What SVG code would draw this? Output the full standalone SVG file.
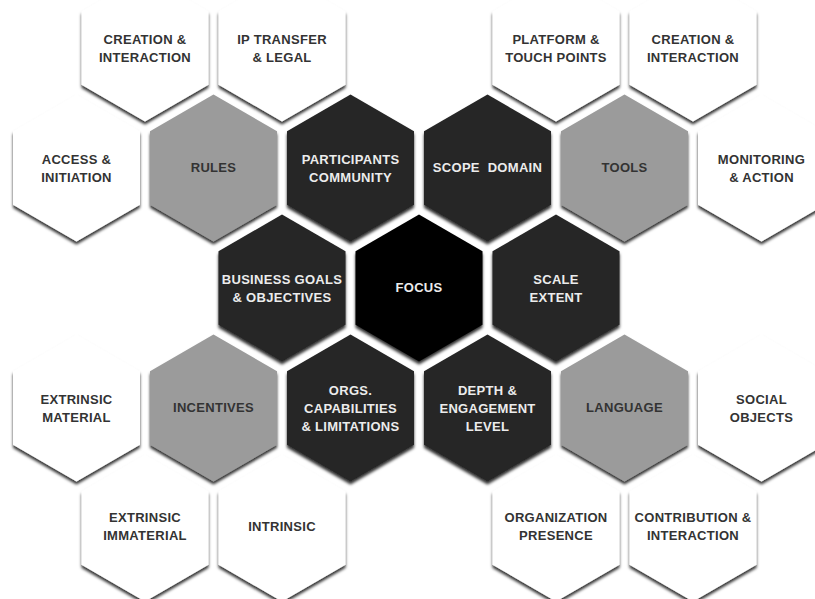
<svg xmlns="http://www.w3.org/2000/svg" xmlns:xlink="http://www.w3.org/1999/xlink" width="815" height="599" viewBox="0 0 815 599">
  <style>
    .white { fill: #ffffff; filter: url(#shadow); }
    .grey  { fill: #9b9b9b; filter: url(#shadow); }
    .dark  { fill: #262626; filter: url(#shadow); }
    .black { fill: #000000; filter: url(#shadow); }
    text { font-family: "Liberation Sans", Arial, sans-serif; font-size: 13px; font-weight: bold; letter-spacing: 0.3px; text-anchor: middle; }
    .ink  { fill: #333333; }
    .pale { fill: #ececec; }
  </style>
  <defs>
    <!-- pointy-top hexagon centred on the origin -->
    <path id="hex" d="M0,-73.5 L63.5,-36.75 L63.5,36.75 L0,73.5 L-63.5,36.75 L-63.5,-36.75 Z"/>
    <filter id="shadow" x="-20%" y="-20%" width="140%" height="140%">
      <feDropShadow dx="0" dy="3" stdDeviation="1.6" flood-color="#000" flood-opacity="0.8"/>
    </filter>
  </defs>
  <rect width="815" height="599" fill="#ffffff"/>

  <!-- top row -->
  <g id="creation-interaction-left">
    <use xlink:href="#hex" class="white" transform="translate(145,48)"/>
    <text class="ink" x="145" y="44">CREATION &amp;</text>
    <text class="ink" x="145" y="62">INTERACTION</text>
  </g>
  <g id="ip-transfer-legal">
    <use xlink:href="#hex" class="white" transform="translate(282,48)"/>
    <text class="ink" x="282" y="44">IP TRANSFER</text>
    <text class="ink" x="282" y="62">&amp; LEGAL</text>
  </g>
  <g id="platform-touch-points">
    <use xlink:href="#hex" class="white" transform="translate(556,48)"/>
    <text class="ink" x="556" y="44">PLATFORM &amp;</text>
    <text class="ink" x="556" y="62">TOUCH POINTS</text>
  </g>
  <g id="creation-interaction-right">
    <use xlink:href="#hex" class="white" transform="translate(693,48)"/>
    <text class="ink" x="693" y="44">CREATION &amp;</text>
    <text class="ink" x="693" y="62">INTERACTION</text>
  </g>

  <!-- second row -->
  <g id="access-initiation">
    <use xlink:href="#hex" class="white" transform="translate(76.5,168)"/>
    <text class="ink" x="76.5" y="164">ACCESS &amp;</text>
    <text class="ink" x="76.5" y="182">INITIATION</text>
  </g>
  <g id="rules">
    <use xlink:href="#hex" class="grey" transform="translate(213.5,168)"/>
    <text class="ink" x="213.5" y="172">RULES</text>
  </g>
  <g id="participants-community">
    <use xlink:href="#hex" class="dark" transform="translate(350.5,168)"/>
    <text class="pale" x="350.5" y="164">PARTICIPANTS</text>
    <text class="pale" x="350.5" y="182">COMMUNITY</text>
  </g>
  <g id="scope-domain">
    <use xlink:href="#hex" class="dark" transform="translate(487.5,168)"/>
    <text class="pale" x="487.5" y="172" style="white-space:pre">SCOPE  DOMAIN</text>
  </g>
  <g id="tools">
    <use xlink:href="#hex" class="grey" transform="translate(624.5,168)"/>
    <text class="ink" x="624.5" y="172">TOOLS</text>
  </g>
  <g id="monitoring-action">
    <use xlink:href="#hex" class="white" transform="translate(761.5,168)"/>
    <text class="ink" x="761.5" y="164">MONITORING</text>
    <text class="ink" x="761.5" y="182">&amp; ACTION</text>
  </g>

  <!-- middle row -->
  <g id="business-goals">
    <use xlink:href="#hex" class="dark" transform="translate(282,288)"/>
    <text class="pale" x="282" y="284">BUSINESS GOALS</text>
    <text class="pale" x="282" y="302">&amp; OBJECTIVES</text>
  </g>
  <g id="focus">
    <use xlink:href="#hex" class="black" transform="translate(419,288)"/>
    <text class="pale" x="419" y="292">FOCUS</text>
  </g>
  <g id="scale-extent">
    <use xlink:href="#hex" class="dark" transform="translate(556,288)"/>
    <text class="pale" x="556" y="284">SCALE</text>
    <text class="pale" x="556" y="302">EXTENT</text>
  </g>

  <!-- fourth row -->
  <g id="extrinsic-material">
    <use xlink:href="#hex" class="white" transform="translate(76.5,408)"/>
    <text class="ink" x="76.5" y="404">EXTRINSIC</text>
    <text class="ink" x="76.5" y="422">MATERIAL</text>
  </g>
  <g id="incentives">
    <use xlink:href="#hex" class="grey" transform="translate(213.5,408)"/>
    <text class="ink" x="213.5" y="412">INCENTIVES</text>
  </g>
  <g id="orgs-capabilities">
    <use xlink:href="#hex" class="dark" transform="translate(350.5,408)"/>
    <text class="pale" x="350.5" y="395">ORGS.</text>
    <text class="pale" x="350.5" y="413">CAPABILITIES</text>
    <text class="pale" x="350.5" y="431">&amp; LIMITATIONS</text>
  </g>
  <g id="depth-engagement">
    <use xlink:href="#hex" class="dark" transform="translate(487.5,408)"/>
    <text class="pale" x="487.5" y="395">DEPTH &amp;</text>
    <text class="pale" x="487.5" y="413">ENGAGEMENT</text>
    <text class="pale" x="487.5" y="431">LEVEL</text>
  </g>
  <g id="language">
    <use xlink:href="#hex" class="grey" transform="translate(624.5,408)"/>
    <text class="ink" x="624.5" y="412">LANGUAGE</text>
  </g>
  <g id="social-objects">
    <use xlink:href="#hex" class="white" transform="translate(761.5,408)"/>
    <text class="ink" x="761.5" y="404">SOCIAL</text>
    <text class="ink" x="761.5" y="422">OBJECTS</text>
  </g>

  <!-- bottom row -->
  <g id="extrinsic-immaterial">
    <use xlink:href="#hex" class="white" transform="translate(145,528)"/>
    <text class="ink" x="145" y="522">EXTRINSIC</text>
    <text class="ink" x="145" y="540">IMMATERIAL</text>
  </g>
  <g id="intrinsic">
    <use xlink:href="#hex" class="white" transform="translate(282,528)"/>
    <text class="ink" x="282" y="531">INTRINSIC</text>
  </g>
  <g id="organization-presence">
    <use xlink:href="#hex" class="white" transform="translate(556,528)"/>
    <text class="ink" x="556" y="522">ORGANIZATION</text>
    <text class="ink" x="556" y="540">PRESENCE</text>
  </g>
  <g id="contribution-interaction">
    <use xlink:href="#hex" class="white" transform="translate(693,528)"/>
    <text class="ink" x="693" y="522">CONTRIBUTION &amp;</text>
    <text class="ink" x="693" y="540">INTERACTION</text>
  </g>

  <!-- no connectors in this layout -->
  <g id="connectors"/>
</svg>
